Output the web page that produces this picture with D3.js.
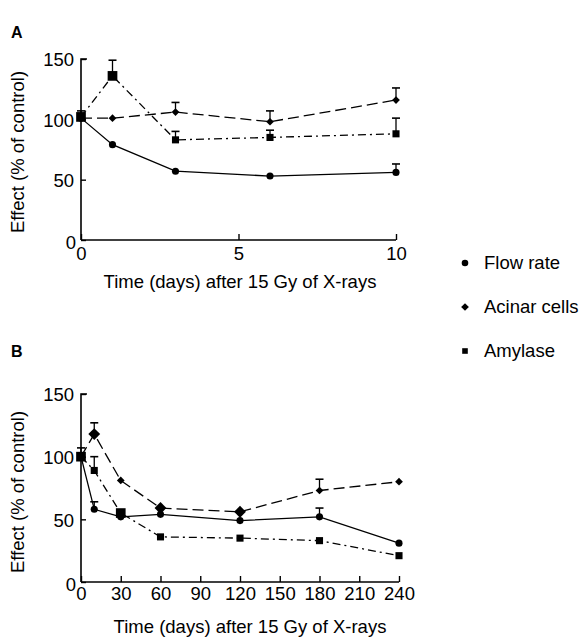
<!DOCTYPE html>
<html>
<head>
<meta charset="utf-8">
<script src="https://cdn.jsdelivr.net/npm/d3@7"></script>
<style>
  body { margin: 0; background: #fff; }
  svg { font-family: "Liberation Sans", Arial, sans-serif; }
</style>
</head>
<body>
<div id="container"></div>
<script>
// panel A: short term (days 0-10)
var daysA = [0, 1, 3, 6, 10];
var flowA = [101, 79, 57, 53, 56];
var flowErrA = [null, null, null, null, 63];
var acinarA = [101, 101, 106, 98, 116];
var acinarErrA = [null, null, 114, 107, 126];
var amylaseA = [102, 136, 83, 85, 88];
var amylaseErrA = [107, 149, 90, 91, 101];

// panel B: long term (days 0-240)
var daysB = [0, 10, 30, 60, 120, 180, 240];
var flowB = [100, 58, 52, 54, 49, 52, 31];
var flowErrB = [null, 64, null, null, null, 59, null];
var acinarB = [100, 118, 81, 59, 56, 73, 80];
var acinarErrB = [null, 127, null, null, null, 82, null];
var amylaseB = [100, 89, 55, 36, 35, 33, 21];
var amylaseErrB = [107, 100, null, null, null, null, null];

var yTicks = [0, 50, 100, 150];
var xTicksA = [0, 5, 10];
var xTicksB = [0, 30, 60, 90, 120, 150, 180, 210, 240];
var seriesNames = ["Flow rate", "Acinar cells", "Amylase"];
var xTitle = "Time (days) after 15 Gy of X-rays";
var yTitle = "Effect (% of control)";

// points drawn with the larger marker in the original
var bigA = {amylase: [0, 1]};
var bigB = {amylase: [0, 2], acinar: [1, 3, 4]};

var fs = "18.5px";

var svg = d3.select("#container").append("svg")
    .attr("width", 580)
    .attr("height", 640);

var shapes = {
  flow: d3.symbolCircle,
  acinar: d3.symbolDiamond2,
  amylase: d3.symbolSquare2
};
var dashes = {
  flow: null,
  acinar: "11,5",
  amylase: "8,4,2,4"
};

function drawPanel(opt) {
  var x = d3.scaleLinear().domain(opt.xDomain).range([81, opt.xRight]);
  var y = d3.scaleLinear().domain([0, 150]).range([opt.yBottom, opt.yTop]);
  var g = svg.append("g");

  // y axis, ticks inward
  var yAxis = g.append("g")
      .attr("transform", "translate(81,0)")
      .call(d3.axisRight(y).tickValues(yTicks).tickSize(5).tickFormat(d3.format("d")));
  yAxis.select(".domain").attr("stroke-width", 1.6).attr("d", "M6," + y(150) + "H0V" + y(0));
  yAxis.selectAll(".tick line").attr("stroke-width", 1.4);
  yAxis.selectAll(".tick text")
      .attr("x", -7).attr("dy", "0.36em")
      .attr("text-anchor", "end")
      .style("font-size", fs).attr("fill", "#000");
  yAxis.selectAll(".tick").filter(function(d) { return d === 0; }).select("text")
      .attr("dy", "0.45em").attr("x", -5);

  // x axis, ticks inward
  var xAxis = g.append("g")
      .attr("transform", "translate(0," + opt.yBottom + ")")
      .call(d3.axisTop(x).tickValues(opt.xTicks).tickSize(6));
  xAxis.select(".domain").attr("stroke-width", 1.6).attr("d", "M" + x(opt.xDomain[0]) + ",0H" + x(opt.xDomain[1]));
  xAxis.selectAll(".tick line").attr("stroke-width", 1.4);
  xAxis.selectAll(".tick text")
      .attr("y", opt.xLabelGap).attr("dy", "0.71em").attr("text-anchor", "middle")
      .style("font-size", fs).attr("fill", "#000");

  g.append("text")
      .attr("x", opt.xTitleX).attr("y", opt.xTitleY)
      .attr("text-anchor", "middle")
      .style("font-size", fs)
      .text(xTitle);
  g.append("text")
      .attr("transform", "translate(24," + opt.yTitleY + ") rotate(-90)")
      .attr("text-anchor", "middle")
      .style("font-size", fs)
      .text(yTitle);
  g.append("text")
      .attr("x", 11).attr("y", opt.labelY)
      .style("font-size", "16px").style("font-weight", "bold")
      .text(opt.label);

  var line = d3.line()
      .x(function(d) { return x(d[0]); })
      .y(function(d) { return y(d[1]); });

  opt.series.forEach(function(s) {
    var pts = opt.days.map(function(d, i) { return [d, s.values[i], s.err[i], i]; });
    g.append("path")
        .datum(pts)
        .attr("fill", "none")
        .attr("stroke", "#000")
        .attr("stroke-width", 1.3)
        .attr("stroke-dasharray", dashes[s.key])
        .attr("d", line);

    // upper error bars
    var eb = g.selectAll(null)
        .data(pts.filter(function(p) { return p[2] != null; }))
        .enter().append("g");
    eb.append("line")
        .attr("x1", function(p) { return x(p[0]); })
        .attr("x2", function(p) { return x(p[0]); })
        .attr("y1", function(p) { return y(p[1]); })
        .attr("y2", function(p) { return y(p[2]); })
        .attr("stroke", "#000").attr("stroke-width", 1.3);
    eb.append("line")
        .attr("x1", function(p) { return x(p[0]) - 4; })
        .attr("x2", function(p) { return x(p[0]) + 4; })
        .attr("y1", function(p) { return y(p[2]); })
        .attr("y2", function(p) { return y(p[2]); })
        .attr("stroke", "#000").attr("stroke-width", 1.6);

    var big = opt.big[s.key] || [];
    g.selectAll(null)
        .data(pts)
        .enter().append("path")
        .attr("transform", function(p) { return "translate(" + x(p[0]) + "," + y(p[1]) + ")"; })
        .attr("d", function(p) {
          var isBig = big.indexOf(p[3]) >= 0;
          var size = s.key === "flow" ? 40 : s.key === "acinar" ? (isBig ? 90 : 38) : (isBig ? 120 : 64);
          return d3.symbol().type(shapes[s.key]).size(size)();
        })
        .attr("fill", "#000");
  });
}

drawPanel({
  label: "A", labelY: 38,
  days: daysA, xDomain: [0, 10], xTicks: xTicksA, xRight: 396,
  yBottom: 240, yTop: 59, xLabelGap: 7,
  xTitleX: 240, xTitleY: 288, yTitleY: 152,
  big: bigA,
  series: [
    {key: "flow", values: flowA, err: flowErrA},
    {key: "acinar", values: acinarA, err: acinarErrA},
    {key: "amylase", values: amylaseA, err: amylaseErrA}
  ]
});

drawPanel({
  label: "B", labelY: 357,
  days: daysB, xDomain: [0, 240], xTicks: xTicksB, xRight: 399,
  yBottom: 582, yTop: 394, xLabelGap: 5,
  xTitleX: 250, xTitleY: 633, yTitleY: 492,
  big: bigB,
  series: [
    {key: "flow", values: flowB, err: flowErrB},
    {key: "acinar", values: acinarB, err: acinarErrB},
    {key: "amylase", values: amylaseB, err: amylaseErrB}
  ]
});

// legend
var legend = svg.append("g");
var legendKeys = ["flow", "acinar", "amylase"];
legendKeys.forEach(function(k, i) {
  var cy = 263 + i * 44;
  legend.append("path")
      .attr("transform", "translate(465," + cy + ")")
      .attr("d", d3.symbol().type(shapes[k]).size(k === "flow" ? 34 : k === "acinar" ? 38 : 40)())
      .attr("fill", "#000");
  legend.append("text")
      .attr("x", 484).attr("y", cy + 6)
      .style("font-size", fs)
      .text(seriesNames[i]);
});
</script>
</body>
</html>
